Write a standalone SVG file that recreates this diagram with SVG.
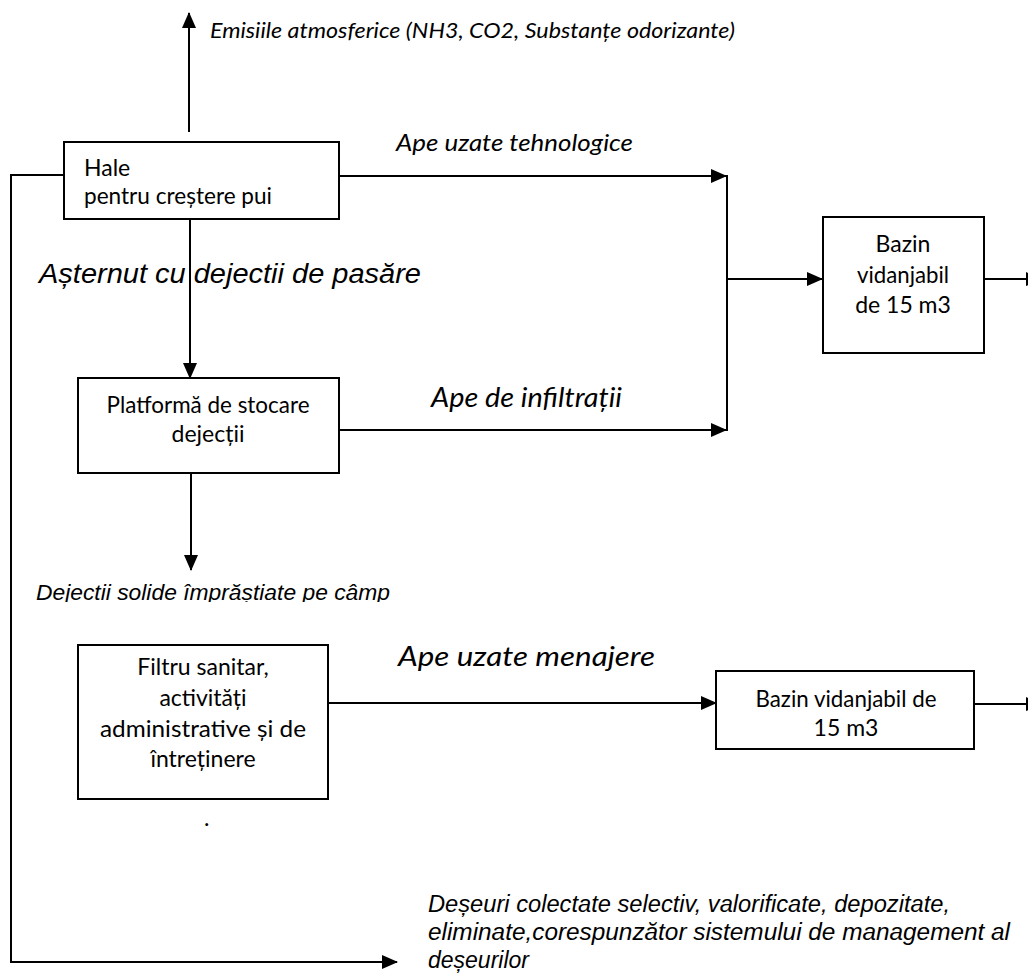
<svg xmlns="http://www.w3.org/2000/svg" width="1028" height="974" viewBox="0 0 1028 974">
<style>
  .box { fill: #fff; stroke: #000; stroke-width: 2; }
  .ln { fill: none; stroke: #000; stroke-width: 2; }
  .arr { fill: none; stroke: #000; stroke-width: 2; marker-end: url(#ah); }
  .bt { font-family: Lato, "Open Sans", sans-serif; font-size: 23px; fill: #000; }
  .btc { font-family: Lato, "Open Sans", sans-serif; font-size: 23px; fill: #000; text-anchor: middle; }
  .ci { font-family: Lato, "Open Sans", sans-serif; font-style: italic; fill: #000; }
  .ai { font-family: "Liberation Sans", Arial, sans-serif; font-style: italic; fill: #000; }
</style>
<defs>
  <marker id="ah" markerUnits="userSpaceOnUse" markerWidth="17" markerHeight="15" refX="15" refY="7" orient="auto">
    <path d="M0,0 L16,7 L0,14 Z" fill="#000"/>
  </marker>
  <clipPath id="clipDej">
    <rect x="0" y="570" width="500" height="32"/>
  </clipPath>
</defs>
<rect x="0" y="0" width="1028" height="974" fill="#fff"/>

<g id="connectors">
  <line class="arr" x1="189" y1="132" x2="189" y2="13"/>
  <line class="arr" x1="339" y1="176" x2="726" y2="176"/>
  <line class="ln" x1="727" y1="175" x2="727" y2="431"/>
  <line class="arr" x1="727" y1="279" x2="822" y2="279"/>
  <line class="arr" x1="984" y1="279" x2="1041" y2="279"/>
  <line class="arr" x1="190" y1="219" x2="190" y2="378"/>
  <line class="arr" x1="339" y1="430" x2="726" y2="430"/>
  <line class="arr" x1="191" y1="473" x2="191" y2="570"/>
  <line class="arr" x1="328" y1="703" x2="716" y2="703"/>
  <line class="arr" x1="974" y1="704" x2="1041" y2="704"/>
  <polyline class="arr" points="64,175 11,175 11,962 397,962"/>
</g>

<g id="labels">
  <text class="ci" x="210" y="38" font-size="22" textLength="525" lengthAdjust="spacingAndGlyphs">Emisiile atmosferice (NH3, CO2, Substanțe odorizante)</text>
  <text class="ci" x="396" y="151" font-size="24" textLength="237" lengthAdjust="spacingAndGlyphs">Ape uzate tehnologice</text>
  <text class="ai" x="39" y="283" font-size="27" textLength="382" lengthAdjust="spacingAndGlyphs">Așternut cu dejectii de pasăre</text>
  <text class="ci" x="431" y="407" font-size="27" textLength="191" lengthAdjust="spacingAndGlyphs">Ape de infiltrații</text>
  <g clip-path="url(#clipDej)">
    <text class="ai" x="36" y="600" font-size="22" textLength="354" lengthAdjust="spacingAndGlyphs">Dejectii solide împrăștiate pe câmp</text>
  </g>
  <text class="ci" x="398" y="666" font-size="27" textLength="257" lengthAdjust="spacingAndGlyphs">Ape uzate menajere</text>
  <text class="bt" x="204" y="826" font-size="14">.</text>
  <text class="ai" x="428" y="912" font-size="23" textLength="522" lengthAdjust="spacingAndGlyphs">Deșeuri colectate selectiv, valorificate, depozitate,</text>
  <text class="ai" x="428" y="940" font-size="23" textLength="582" lengthAdjust="spacingAndGlyphs">eliminate,corespunzător sistemului de management al</text>
  <text class="ai" x="428" y="968" font-size="23">deșeurilor</text>
</g>

<g id="hale">
  <rect class="box" x="64" y="142" width="275" height="77"/>
  <text class="bt" x="84" y="176">Hale</text>
  <text class="bt" x="84" y="204" textLength="188" lengthAdjust="spacingAndGlyphs">pentru creștere pui</text>
</g>

<g id="platforma">
  <rect class="box" x="78" y="378" width="261" height="95"/>
  <text class="btc" x="208" y="413" textLength="203" lengthAdjust="spacingAndGlyphs">Platformă de stocare</text>
  <text class="btc" x="208" y="442">dejecții</text>
</g>

<g id="bazin1">
  <rect class="box" x="823" y="217" width="161" height="136"/>
  <text class="btc" x="903" y="252">Bazin</text>
  <text class="btc" x="903" y="283" textLength="92" lengthAdjust="spacingAndGlyphs">vidanjabil</text>
  <text class="btc" x="903" y="313">de 15 m3</text>
</g>

<g id="filtru">
  <rect class="box" x="78" y="645" width="250" height="154"/>
  <text class="btc" x="203" y="675">Filtru sanitar,</text>
  <text class="btc" x="203" y="706">activități</text>
  <text class="btc" x="203" y="737" textLength="206" lengthAdjust="spacingAndGlyphs">administrative și de</text>
  <text class="btc" x="203" y="767">întreținere</text>
</g>

<g id="bazin2">
  <rect class="box" x="716" y="671" width="258" height="78"/>
  <text class="btc" x="846" y="707" textLength="181" lengthAdjust="spacingAndGlyphs">Bazin vidanjabil de</text>
  <text class="btc" x="846" y="736">15 m3</text>
</g>
</svg>
